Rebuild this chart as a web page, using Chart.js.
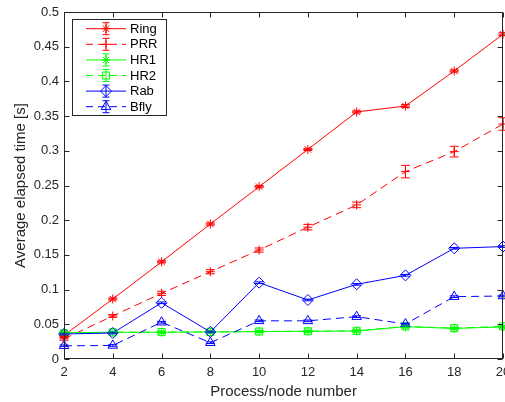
<!DOCTYPE html>
<html>
<head>
<meta charset="utf-8">
<script src="https://cdn.jsdelivr.net/npm/chart.js@4/dist/chart.umd.min.js"></script>
<style>
  html, body { margin: 0; padding: 0; background: #fff; }
  #wrap { width: 505px; height: 402px; position: relative; }
</style>
</head>
<body>
<div id="wrap"><canvas id="c" width="505" height="402"></canvas></div>
<script>
// ---- data ----
const xValues = [2, 4, 6, 8, 10, 12, 14, 16, 18, 20];
const seriesNames = ['Ring', 'PRR', 'HR1', 'HR2', 'Rab', 'Bfly'];
const ring  = [0.034, 0.0865, 0.140, 0.1945, 0.2483, 0.302, 0.356, 0.3645, 0.415, 0.468];
const prr   = [0.029, 0.062, 0.0946, 0.1258, 0.157, 0.190, 0.222, 0.270, 0.2988, 0.3386];
const hr1   = [0.038, 0.0385, 0.0385, 0.039, 0.0394, 0.040, 0.0403, 0.0466, 0.044, 0.0462];
const hr2   = [0.037, 0.0385, 0.0388, 0.039, 0.0396, 0.040, 0.0405, 0.047, 0.0445, 0.047];
const rab   = [0.036, 0.0375, 0.081, 0.039, 0.110, 0.085, 0.1076, 0.1205, 0.1595, 0.162];
const bfly  = [0.019, 0.0195, 0.053, 0.0235, 0.055, 0.055, 0.061, 0.0504, 0.0898, 0.0908];
const ringErr = [0.0015, 0.0015, 0.0015, 0.0015, 0.0015, 0.0015, 0.0015, 0.002, 0.0015, 0.002];
const prrErr  = [0.002, 0.002, 0.003, 0.003, 0.003, 0.004, 0.004, 0.009, 0.0077, 0.009];
const hr1Err  = [0.0012, 0.0012, 0.0012, 0.0012, 0.0012, 0.0012, 0.0012, 0.0015, 0.0012, 0.0015];
const hr2Err  = [0.0012, 0.0012, 0.0012, 0.0012, 0.0012, 0.0012, 0.0012, 0.0015, 0.0012, 0.0015];
const rabErr  = [0.0012, 0.0012, 0.0012, 0.0012, 0.0012, 0.0012, 0.0012, 0.0012, 0.0012, 0.0012];
const bflyErr = [0.0012, 0.0012, 0.0012, 0.0012, 0.0012, 0.0012, 0.0012, 0.0012, 0.0012, 0.0012];
const xTicks = [2, 4, 6, 8, 10, 12, 14, 16, 18, 20];
const xTickLabels = ['2', '4', '6', '8', '10', '12', '14', '16', '18', '20'];
const yTicks = [0, 0.05, 0.1, 0.15, 0.2, 0.25, 0.3, 0.35, 0.4, 0.45, 0.5];
const yTickLabels = ['0', '0.05', '0.1', '0.15', '0.2', '0.25', '0.3', '0.35', '0.4', '0.45', '0.5'];
const xTitle = 'Process/node number';
const yTitle = 'Average elapsed time [s]';

// ---- styles ----
const AX = '#262626';
const FONT = 'Arial, "Liberation Sans", Helvetica, sans-serif';
const styles = [
  { color: '#FF0000', dash: [],     point: 'star',     r: 4.5 },
  { color: '#FF0000', dash: [8, 5], point: 'cross',    r: 4.5 },
  { color: '#00FF00', dash: [],     point: 'star',     r: 4.5 },
  { color: '#00FF00', dash: [8, 5], point: 'rect',     r: 5 },
  { color: '#0000FF', dash: [],     point: 'rectRot',  r: 5.5 },
  { color: '#0000FF', dash: [8, 5], point: 'triangle', r: 5.5 }
];
const values = [ring, prr, hr1, hr2, rab, bfly];
const errors = [ringErr, prrErr, hr1Err, hr2Err, rabErr, bflyErr];

const datasets = seriesNames.map((name, i) => ({
  label: name,
  data: xValues.map((x, j) => ({ x: x, y: values[i][j] })),
  errors: errors[i],
  borderColor: styles[i].color,
  backgroundColor: 'rgba(0,0,0,0)',
  borderWidth: 1,
  borderDash: styles[i].dash,
  pointStyle: styles[i].point,
  pointRadius: styles[i].r,
  pointHoverRadius: styles[i].r,
  pointBorderColor: styles[i].color,
  pointBackgroundColor: 'rgba(0,0,0,0)',
  pointBorderWidth: 1,
  tension: 0,
  fill: false,
  clip: false,
  order: 6 - i
}));

function drawMarker(ctx, style, r, x, y, color) {
  ctx.save();
  ctx.strokeStyle = color;
  ctx.fillStyle = 'rgba(0,0,0,0)';
  ctx.lineWidth = 1;
  ctx.setLineDash([]);
  if (Chart.helpers && Chart.helpers.drawPoint) {
    Chart.helpers.drawPoint(ctx, { pointStyle: style, radius: r, borderWidth: 1, rotation: 0 }, x, y);
  }
  ctx.restore();
}

const errorBarPlugin = {
  id: 'errorBars',
  afterDatasetsDraw(chart) {
    const ctx = chart.ctx;
    const xs = chart.scales.x, ys = chart.scales.y;
    chart.data.datasets.forEach((ds, i) => {
      ctx.save();
      ctx.strokeStyle = ds.borderColor;
      ctx.lineWidth = 1;
      ctx.setLineDash([]);
      ds.data.forEach((p, j) => {
        const e = ds.errors[j];
        const px = xs.getPixelForValue(p.x);
        const y1 = ys.getPixelForValue(p.y - e);
        const y2 = ys.getPixelForValue(p.y + e);
        const cw = 4.5;
        ctx.beginPath();
        ctx.moveTo(px, y1); ctx.lineTo(px, y2);
        ctx.moveTo(px - cw, y1); ctx.lineTo(px + cw, y1);
        ctx.moveTo(px - cw, y2); ctx.lineTo(px + cw, y2);
        ctx.stroke();
      });
      ctx.restore();
    });
  }
};

const boxPlugin = {
  id: 'matlabBox',
  afterDraw(chart) {
    const ctx = chart.ctx;
    const a = chart.chartArea;
    const xs = chart.scales.x, ys = chart.scales.y;
    ctx.save();
    ctx.strokeStyle = AX;
    ctx.lineWidth = 1;
    ctx.setLineDash([]);
    const L = Math.round(a.left) + 0.5, R = Math.round(a.right) - 0.5;
    const T = Math.round(a.top) + 0.5, B = Math.round(a.bottom) - 0.5;
    ctx.strokeRect(L, T, R - L, B - T);
    const tl = 5;
    ctx.beginPath();
    xTicks.forEach(v => {
      const px = Math.round(xs.getPixelForValue(v)) + 0.5;
      ctx.moveTo(px, B); ctx.lineTo(px, B - tl);
      ctx.moveTo(px, T); ctx.lineTo(px, T + tl);
    });
    yTicks.forEach(v => {
      const py = Math.round(ys.getPixelForValue(v)) + 0.5;
      ctx.moveTo(L, py); ctx.lineTo(L + tl, py);
      ctx.moveTo(R, py); ctx.lineTo(R - tl, py);
    });
    ctx.stroke();

    // legend
    const bx = 72.5, by = 19.5, bw = 94, bh = 96;
    ctx.fillStyle = '#FFFFFF';
    ctx.fillRect(bx, by, bw, bh);
    ctx.strokeStyle = AX;
    ctx.strokeRect(bx, by, bw, bh);
    chart.data.datasets.forEach((ds, i) => {
      const yy = 28.7 + i * 15.6;
      const st = styles[i];
      ctx.save();
      ctx.strokeStyle = ds.borderColor;
      ctx.lineWidth = 1;
      ctx.setLineDash(st.dash.length ? [7, 5] : []);
      ctx.beginPath();
      ctx.moveTo(86, yy); ctx.lineTo(126, yy);
      ctx.stroke();
      ctx.setLineDash([]);
      ctx.beginPath();
      ctx.moveTo(106, yy - 6); ctx.lineTo(106, yy + 6);
      ctx.moveTo(102.5, yy - 6); ctx.lineTo(109.5, yy - 6);
      ctx.moveTo(102.5, yy + 6); ctx.lineTo(109.5, yy + 6);
      ctx.stroke();
      ctx.restore();
      drawMarker(ctx, st.point, st.r, 106, yy, ds.borderColor);
      ctx.fillStyle = '#000000';
      ctx.font = '13px ' + FONT;
      ctx.textBaseline = 'middle';
      ctx.textAlign = 'left';
      ctx.fillText(ds.label, 130, yy + 0.5);
    });
    ctx.restore();
  }
};

new Chart(document.getElementById('c'), {
  type: 'line',
  data: { datasets: datasets },
  options: {
    responsive: false,
    animation: false,
    devicePixelRatio: 1,
    layout: { autoPadding: false, padding: { top: 12, right: 2, left: 0, bottom: 0 } },
    plugins: { legend: { display: false }, tooltip: { enabled: false } },
    scales: {
      x: {
        type: 'linear',
        min: 2, max: 20,
        afterBuildTicks: s => { s.ticks = xTicks.map(v => ({ value: v })); },
        afterFit: s => { s.height = 43; s.paddingRight = 0; s.paddingLeft = 0; },
        ticks: {
          autoSkip: false, maxRotation: 0,
          color: AX, font: { size: 13, family: FONT }, padding: 6,
          callback: (v, idx) => xTickLabels[idx]
        },
        grid: { display: false, drawTicks: false },
        border: { display: false },
        title: { display: true, text: xTitle, color: AX, font: { size: 15, family: FONT }, padding: { top: 0, bottom: 1 } }
      },
      y: {
        type: 'linear',
        min: 0, max: 0.5,
        afterBuildTicks: s => { s.ticks = yTicks.map(v => ({ value: v })); },
        afterFit: s => { s.width = 64; s.paddingTop = 0; s.paddingBottom = 0; },
        ticks: {
          autoSkip: false,
          color: AX, font: { size: 13, family: FONT }, padding: 5,
          callback: (v, idx) => yTickLabels[idx]
        },
        grid: { display: false, drawTicks: false },
        border: { display: false },
        title: { display: true, text: yTitle, color: AX, font: { size: 15, family: FONT }, padding: { top: 12, bottom: 0 } }
      }
    }
  },
  plugins: [errorBarPlugin, boxPlugin]
});
</script>
</body>
</html>
